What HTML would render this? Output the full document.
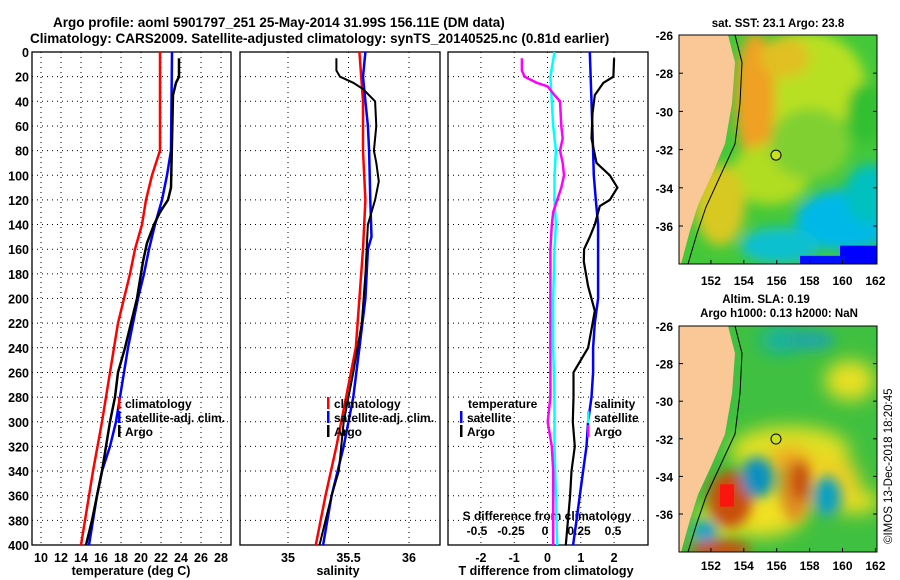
<!DOCTYPE html>
<html><head><meta charset="utf-8">
<style>
body{margin:0;background:#fff;}
svg{display:block;font-family:"Liberation Sans",sans-serif;font-weight:bold;}
</style></head>
<body>
<svg id="fig" width="900" height="580" viewBox="0 0 900 580">
<defs>
<filter id="bl" x="-50%" y="-50%" width="200%" height="200%"><feGaussianBlur stdDeviation="6"/></filter>
<filter id="bl2" x="-50%" y="-50%" width="200%" height="200%"><feGaussianBlur stdDeviation="9"/></filter>
<clipPath id="c1"><rect x="679" y="33" width="198" height="225"/></clipPath>
<clipPath id="c2"><rect x="679" y="316" width="198" height="224"/></clipPath>
</defs>
<text x="53" y="27" font-size="13.5">Argo profile: aoml 5901797_251 25-May-2014 31.99S 156.11E (DM data)</text>
<text x="30" y="43" font-size="13.5">Climatology: CARS2009. Satellite-adjusted climatology: synTS_20140525.nc (0.81d earlier)</text>

<!-- SST map -->
<g transform="translate(0,35) scale(1,1.0178) translate(0,-33)">
<g clip-path="url(#c1)">
<rect x="679" y="33" width="198" height="225" fill="#44c83a"/>
<g filter="url(#bl)">
<ellipse cx="805" cy="80" rx="60" ry="50" fill="#b8e020"/>
<ellipse cx="755" cy="95" rx="20" ry="65" fill="#f0a020"/>
<ellipse cx="785" cy="55" rx="25" ry="20" fill="#e0c020"/>
<ellipse cx="770" cy="170" rx="40" ry="30" fill="#b0dc20"/>
<ellipse cx="720" cy="200" rx="25" ry="40" fill="#d8c820"/>
<ellipse cx="810" cy="140" rx="40" ry="35" fill="#80d030"/>
<ellipse cx="865" cy="110" rx="18" ry="30" fill="#30c030"/>
<ellipse cx="845" cy="215" rx="50" ry="30" fill="#00b8e8"/>
<ellipse cx="780" cy="240" rx="40" ry="18" fill="#10c0d0"/>
<ellipse cx="870" cy="190" rx="25" ry="30" fill="#00c0c0"/>
</g>
<rect x="840" y="240" width="40" height="20" fill="#0000ff"/>
<rect x="800" y="250" width="45" height="10" fill="#0010ff"/>
<path d="M679,33 L728,33 L735,60 L732,100 L725,140 L712,170 L698,200 L690,225 L681,258 L679,258Z" fill="#f9c896"/>
<path d="M735,33 L742,60 L740,100 L735,140 L720,172 L706,202 L697,228 L688,258" fill="none" stroke="#000" stroke-width="1"/>
<ellipse cx="776" cy="151" rx="5" ry="4.9" fill="#c8e020" stroke="#000" stroke-width="1"/>
</g>
</g>
<rect x="679" y="35" width="198" height="229" fill="none" stroke="#000"/>
<text x="778" y="27" font-size="11.5" text-anchor="middle">sat. SST: 23.1 Argo: 23.8</text>

<!-- SLA map -->
<g transform="translate(0,326) scale(1,1.0089) translate(0,-316)">
<g clip-path="url(#c2)">
<rect x="679" y="316" width="198" height="224" fill="#40c040"/>
<g filter="url(#bl2)">
<ellipse cx="790" cy="440" rx="60" ry="25" fill="#e0e020"/>
<ellipse cx="850" cy="370" rx="25" ry="20" fill="#e8e020"/>
<ellipse cx="760" cy="500" rx="45" ry="25" fill="#f0e020"/>
<ellipse cx="790" cy="450" rx="20" ry="14" fill="#f0a020"/>
<ellipse cx="720" cy="510" rx="25" ry="20" fill="#d0e020"/>
<ellipse cx="780" cy="330" rx="20" ry="12" fill="#10b0b0"/>
<ellipse cx="855" cy="490" rx="25" ry="12" fill="#e8e020"/>
<ellipse cx="830" cy="470" rx="30" ry="25" fill="#f0d020"/>
</g>
<g filter="url(#bl)">
<ellipse cx="730" cy="488" rx="22" ry="28" fill="#c85010"/>
<ellipse cx="795" cy="480" rx="15" ry="30" fill="#e09020"/>
<ellipse cx="800" cy="470" rx="10" ry="20" fill="#c85010"/>
<ellipse cx="757" cy="466" rx="16" ry="20" fill="#1090c0"/>
<ellipse cx="827" cy="485" rx="14" ry="20" fill="#10a0c0"/>
<ellipse cx="705" cy="520" rx="12" ry="12" fill="#10a0d0"/>
<ellipse cx="720" cy="538" rx="30" ry="10" fill="#c85010"/>
<ellipse cx="810" cy="330" rx="25" ry="10" fill="#20a8a0"/>
</g>
<rect x="720" y="473" width="14" height="22" fill="#ff1010" opacity="0.9"/>
<path d="M679,316 L728,316 L735,343 L732,383 L725,423 L712,453 L698,483 L690,508 L681,540 L679,540Z" fill="#f9c896"/>
<path d="M735,316 L742,343 L740,383 L735,423 L720,455 L706,485 L697,511 L688,540" fill="none" stroke="#000" stroke-width="1"/>
<circle cx="776" cy="428" r="5" fill="#c8e020" stroke="#000" stroke-width="1"/>
</g>
</g>
<rect x="679" y="326" width="198" height="226" fill="none" stroke="#000"/>
<text x="766" y="303" font-size="11.5" text-anchor="middle">Altim. SLA: 0.19</text>
<text x="779" y="317" font-size="11.5" text-anchor="middle">Argo h1000: 0.13 h2000: NaN</text>
<text transform="translate(892,544) rotate(-90)" font-size="11.5" font-weight="normal">©IMOS 13-Dec-2018 18:20:45</text>
<g id="maps-axes"></g>
<g id="panels"></g>
</svg>
<script>
// ---- data ----
const depthTicks=[0,20,40,60,80,100,120,140,160,180,200,220,240,260,280,300,320,340,360,380,400];
const tempTicks=[10,12,14,16,18,20,22,24,26,28];
const salTicks=[35,35.5,36];
const tdiffTicks=[-2,-1,0,1,2];
const sdiffTicks=[-0.5,-0.25,0,0.25,0.5];
const latTicks=[-26,-28,-30,-32,-34,-36];
const lonTicks=[152,154,156,158,160,162];

const tClimD=[0,80,100,120,140,160,180,200,220,260,300,340,380,400];
const tClimV=[21.9,21.9,21.1,20.5,20.1,19.4,18.9,18.3,17.7,16.9,16.1,15.2,14.4,14.0];
const tSatD=[0,80,100,120,140,160,180,200,220,240,260,280,300,320,340,360,380,400];
const tSatV=[23.1,23.0,22.6,22.1,21.4,20.8,20.3,19.7,19.2,18.7,18.3,17.9,17.5,16.9,16.1,15.6,15.2,14.8];
const tArgoD=[5,20,25,35,110,120,130,140,155,170,200,240,260,280,300,320,340,360,380,400];
const tArgoV=[23.8,23.8,23.5,23.2,23.0,22.7,21.9,21.3,20.6,20.2,19.6,18.4,17.7,17.4,16.9,16.5,16.1,15.6,15.1,14.5];

const sClimD=[0,40,80,120,160,200,240,280,320,360,400];
const sClimV=[35.59,35.62,35.62,35.64,35.62,35.59,35.56,35.48,35.40,35.31,35.23];
const sSatD=[0,20,40,60,80,120,150,160,200,240,280,320,360,400];
const sSatV=[35.64,35.62,35.64,35.66,35.67,35.68,35.69,35.66,35.64,35.59,35.54,35.46,35.36,35.29];
const sArgoD=[5,15,20,25,30,40,60,80,90,105,120,140,180,220,260,300,340,360,400];
const sArgoV=[35.40,35.40,35.43,35.54,35.62,35.72,35.73,35.71,35.73,35.75,35.72,35.66,35.64,35.61,35.54,35.46,35.42,35.36,35.26];

const dtArgoD=[5,20,25,35,50,70,90,100,110,120,125,140,150,160,170,190,210,225,240,260,280,300,320,340,360,400];
const dtArgoV=[2.0,1.98,1.68,1.42,1.35,1.32,1.47,1.87,2.1,1.87,1.57,1.42,1.27,1.1,1.09,1.22,1.42,1.32,1.22,0.78,0.78,0.76,0.82,0.72,0.68,0.55];
const dtSatD=[0,40,80,100,120,140,180,200,220,240,260,280,300,320,340,360,380,400];
const dtSatV=[1.27,1.32,1.37,1.39,1.45,1.52,1.52,1.52,1.42,1.37,1.37,1.32,1.22,1.17,1.07,0.97,0.87,0.77];
const dsArgoD=[5,15,20,25,28,35,40,60,70,80,90,100,110,120,130,140,160,200,240,280,300,320,340,360,400];
const dsArgoV=[-0.17,-0.17,-0.15,-0.06,0.02,0.07,0.11,0.12,0.13,0.11,0.13,0.14,0.12,0.09,0.06,0.05,0.04,0.04,0.04,0.04,0.02,0.05,0.06,0.06,0.06];
const dsSatD=[0,20,60,80,100,120,140,160,200,240,280,320,360,400];
const dsSatV=[0.07,0.04,0.06,0.08,0.07,0.07,0.08,0.07,0.06,0.06,0.07,0.07,0.08,0.09];

// ---- axes ----
const NS='http://www.w3.org/2000/svg';
const TOP=52, BOT=545;
const yD=d=>TOP+d*(BOT-TOP)/400;
const xT=v=>41+(v-10)*10;
const xS=v=>288+(v-35)*121;
const xDT=v=>547.5+v*33.3;
const xDS=v=>545+v*136;
const latY1=v=>35+(-26-v)*19.1;
const latY2=v=>326+(-26-v)*18.8;
const lonX=v=>678+(v-150)*16.45;
const G=document.getElementById('panels');
const MA=document.getElementById('maps-axes');
function el(tag,attrs,parent){const e=document.createElementNS(NS,tag);for(const k in attrs)e.setAttribute(k,attrs[k]);(parent||G).appendChild(e);return e;}
function txt(x,y,s,size,anchor,parent){const t=el('text',{x:x,y:y,'font-size':size,'text-anchor':anchor||'middle'},parent);t.textContent=s;return t;}

const panels=[
 {x0:32,x1:231,ticks:tempTicks,fx:xT,label:'temperature (deg C)',lx:131,name:'temperature-panel'},
 {x0:240,x1:440,ticks:salTicks,fx:xS,label:'salinity',lx:338,name:'salinity-panel'},
 {x0:448,x1:648,ticks:tdiffTicks,fx:xDT,label:'T difference from climatology',lx:546,name:'difference-panel'}
];
panels.forEach(p=>{
 const g=el('g',{});
 
 
 depthTicks.forEach(d=>{
  if(d>0&&d<400){const l=el('line',{x1:p.x0,x2:p.x1,y1:yD(d),y2:yD(d),stroke:'#000','stroke-width':1,'stroke-dasharray':'1,4'},g);
  
  }
 });
 p.ticks.forEach(v=>{
  const x=p.fx(v);
  const l=el('line',{x1:x,x2:x,y1:TOP,y2:BOT,stroke:'#000','stroke-width':1,'stroke-dasharray':'1,4'},g);
  
  
  const t=txt(x,562,String(v),12.5,'middle',g);
  
  
 });
 const r=el('rect',{x:p.x0,y:TOP,width:p.x1-p.x0,height:BOT-TOP,fill:'none',stroke:'#000','stroke-width':1.3},g);
 
 
 const lt=txt(p.lx,575,p.label,12.5,'middle',g);
 
 
});
depthTicks.forEach(d=>{
 const t=txt(29,yD(d)+5,String(d),12.5,'end');
 
 
});
// S diff axis inside panel 3
const sdt=txt(547,520,'S difference from climatology',12,'middle');


sdiffTicks.forEach(v=>{
 const t=txt(xDS(v),535,String(v),12,'middle');
 
 
});

function line(D,V,fx,color,w,name){
 const pts=D.map((d,i)=>fx(V[i]).toFixed(1)+','+yD(d).toFixed(1)).join(' ');
 const pl=el('polyline',{points:pts,fill:'none',stroke:color,'stroke-width':w});
 
 
}
line(tClimD,tClimV,xT,'#ff0000',2.5,'temp-climatology-line');
line(tSatD,tSatV,xT,'#0000ff',2.5,'temp-satellite-line');
line(tArgoD,tArgoV,xT,'#000000',2.5,'temp-argo-line');
line(sClimD,sClimV,xS,'#ff0000',2.5,'sal-climatology-line');
line(sSatD,sSatV,xS,'#0000ff',2.5,'sal-satellite-line');
line(sArgoD,sArgoV,xS,'#000000',2,'sal-argo-line');
line(dsSatD,dsSatV,xDS,'#00ffff',2.5,'sdiff-satellite-line');
line(dsArgoD,dsArgoV,xDS,'#ff00ff',2.5,'sdiff-argo-line');
line(dtSatD,dtSatV,xDT,'#0000ff',2.5,'tdiff-satellite-line');
line(dtArgoD,dtArgoV,xDT,'#000000',2.2,'tdiff-argo-line');

function legend(x,y,color,label){
 const m=el('rect',{x:x,y:y-11,width:2.5,height:12,fill:color});
 
 
 const t=txt(x+7,y,label,12,'start');
 
 
}
const legRows=[['#ff0000','climatology'],['#0000ff','satellite-adj. clim.'],['#000000','Argo']];
legRows.forEach((r,i)=>{legend(118,408+i*14,r[0],r[1]);legend(327,408+i*14,r[0],r[1]);});
const lt1=txt(468,408,'temperature',12,'start');


legend(460,422,'#0000ff','satellite');legend(460,436,'#000000','Argo');
const lt2=txt(594,408,'salinity',12,'start');


legend(587,422,'#00ffff','satellite');legend(587,436,'#ff00ff','Argo');

// map axes
[[latY1,264,285],[latY2,552,570]].forEach(([fy,bot,ly])=>{
 latTicks.forEach(v=>{
  const y=fy(v);
  if(y>=bot-2)return;
  const t=txt(673,y+5,String(v),12,'end',MA);
  
  
  el('line',{x1:679,x2:683,y1:y,y2:y,stroke:'#000'},MA);
  el('line',{x1:873,x2:877,y1:y,y2:y,stroke:'#000'},MA);
 });
 lonTicks.forEach(v=>{
  const x=lonX(v);
  const t=txt(x,ly,String(v),12,'middle',MA);
  
  
  el('line',{x1:x,x2:x,y1:bot,y2:bot-4,stroke:'#000'},MA);
 });
});
</script>
</body></html>
